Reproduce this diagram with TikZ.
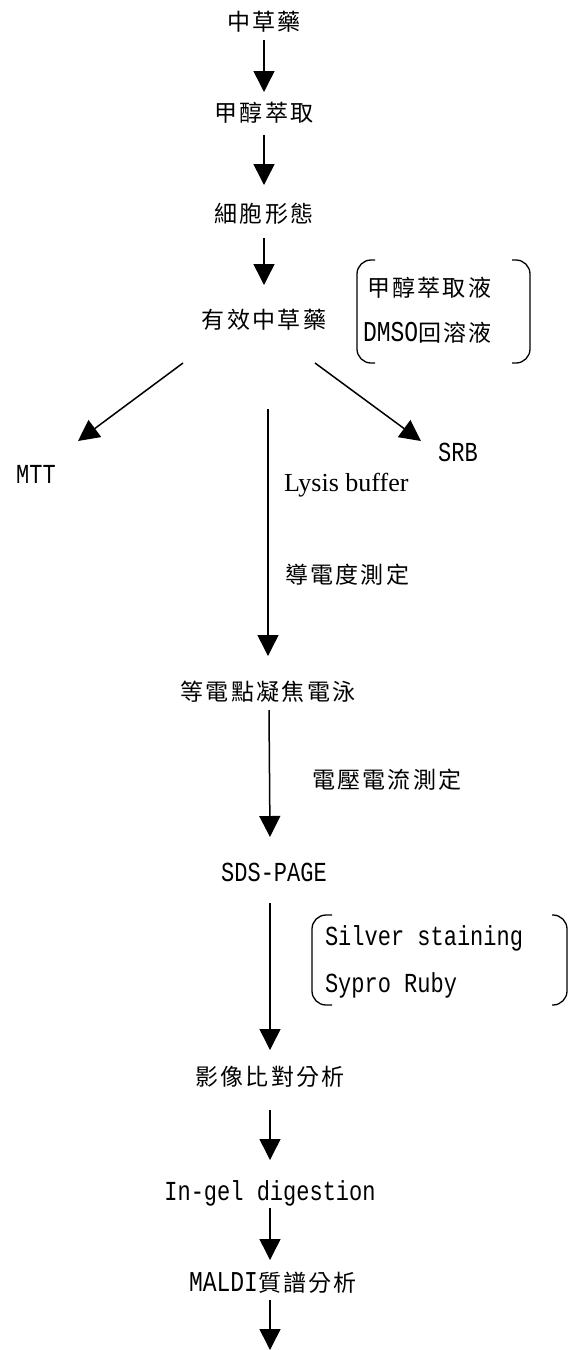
\documentclass[tikz,border=0pt]{standalone}
\usepackage{fontspec}
\usepackage{graphicx}
\setmainfont{Liberation Serif}
\newfontfamily\cjk[LetterSpace=10]{Noto Sans CJK TC}
\newfontfamily\mono{Liberation Mono}
\usetikzlibrary{arrows.meta}
% condensed, slightly tall Latin letters
\newcommand\tl[1]{\scalebox{1}[1.25]{\mono #1}}
\begin{document}
\begin{tikzpicture}[x=1pt,y=-1pt,
  every node/.style={inner sep=0pt,outer sep=0pt},
  zh/.style={font=\fontsize{23}{25}\cjk},
  lat/.style={font=\fontsize{22}{24}\mono},
  arr/.style={line width=1.5pt,-{Triangle[width=21pt,length=21pt]}},
  brk/.style={line width=1.3pt,rounded corners=14pt}]
\useasboundingbox (0,0) rectangle (568,1350);

% main column
\node[zh] (herb)   at (264,22)   {中草藥};
\node[zh] (meoh)   at (264,113)  {甲醇萃取};
\node[zh] (morph)  at (264,214)  {細胞形態};
\node[zh] (active) at (264,320)  {有效中草藥};
\node[lat] (mtt)   at (36,474)   {\tl{MTT}};
\node[lat] (srb)   at (458,452)  {\tl{SRB}};
\node[zh] (ief)    at (268,692)  {等電點凝焦電泳};
\node[lat] (sds)   at (274,872)  {\tl{SDS-PAGE}};
\node[zh] (img)    at (270,1077) {影像比對分析};
\node[lat] (ingel) at (270,1193) {\tl{In-gel digestion}};
\node[zh] (maldi)  at (273,1283) {\tl{MALDI}質譜分析};
\coordinate (tail) at (270,1350);

% side labels
\node[zh,anchor=west] (ext)  at (367,288) {甲醇萃取液};
\node[zh,anchor=west] (dmso) at (363,333) {\tl{DMSO}回溶液};
\node[anchor=west,font=\fontsize{26}{28}\selectfont] (lysis) at (284,485) {Lysis buffer};
\node[zh,anchor=west] (cond) at (285,575) {導電度測定};
\node[zh,anchor=west] (volt) at (312,780) {電壓電流測定};
\node[lat,anchor=west] (silver) at (325,938) {\tl{Silver staining}};
\node[lat,anchor=west] (sypro)  at (325,985) {\tl{Sypro Ruby}};

% brackets
\draw[brk] (375,260) -- (357,260) -- (357,363) -- (375,363);
\draw[brk] (512,260) -- (530,260) -- (530,363) -- (512,363);
\draw[brk] (332,915) -- (312,915) -- (312,1005) -- (332,1005);
\draw[brk] (552,915) -- (567,915) -- (567,1005) -- (552,1005);

% connectors
\draw[arr] ([shift={(0,18)}]herb.center) -- ([shift={(0,-21)}]meoh.center);
\draw[arr] ([shift={(0,22)}]meoh.center) -- ([shift={(0,-29)}]morph.center);
\draw[arr] ([shift={(0,24)}]morph.center) -- ([shift={(0,-35)}]active.center);
\draw[arr] ([shift={(-81,43)}]active.center) -- ([shift={(42,-33)}]mtt.center);
\draw[arr] ([shift={(51,43)}]active.center) -- ([shift={(-37,-11)}]srb.center);
\draw[arr] ([shift={(4,89)}]active.center) -- ([shift={(0,-36)}]ief.center);
\draw[arr] ([shift={(1,18)}]ief.center) -- ([shift={(-4,-35)}]sds.center);
\draw[arr] ([shift={(-4,31)}]sds.center) -- ([shift={(0,-27)}]img.center);
\draw[arr] ([shift={(0,33)}]img.center) -- ([shift={(0,-33)}]ingel.center);
\draw[arr] ([shift={(0,15)}]ingel.center) -- ([shift={(-3,-23)}]maldi.center);
\draw[arr] ([shift={(-3,17)}]maldi.center) -- (tail);
\end{tikzpicture}
\end{document}
